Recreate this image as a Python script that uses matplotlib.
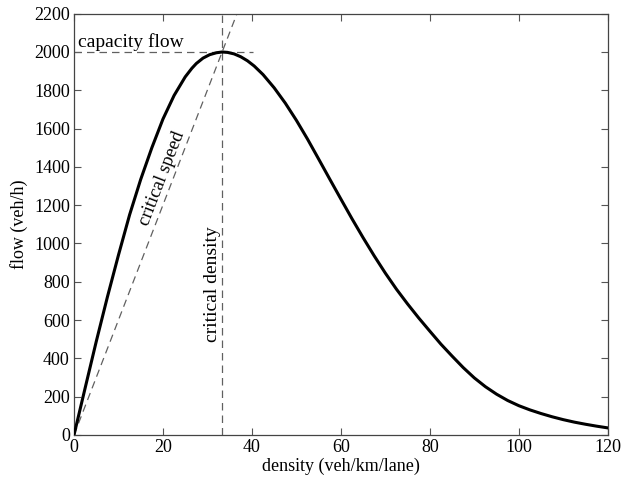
import numpy as np
import matplotlib
matplotlib.use("Agg")
import matplotlib.pyplot as plt

# density (veh/km/lane) and flow (veh/h)
density = [0, 2.5, 5, 7.5, 10, 12.5, 15, 17.5, 20, 22.5, 25, 26.5, 27.5, 29, 30.5, 32, 33.3,
           34.5, 36, 37.5, 39, 40.5, 42.5, 45, 47.5, 50, 52.5, 55, 57.5, 60, 62.5, 65, 67.5,
           70, 72.5, 75, 77.5, 80, 82.5, 85, 87.5, 90, 92.5, 95, 97.5, 100, 102.5, 105,
           107.5, 110, 112.5, 115, 117.5, 120]
flow = [0, 245, 488, 720, 940, 1150, 1335, 1500, 1650, 1773, 1870, 1915, 1940, 1968, 1986, 1996, 2000,
        1998, 1990, 1975, 1954, 1927, 1882, 1813, 1733, 1643, 1545, 1441, 1336, 1232, 1129, 1030, 935,
        845, 761, 684, 611, 542, 474, 412, 352, 298, 252, 213, 180, 153, 131, 112,
        95, 80, 67, 56, 46, 37]

k_crit = 33.3
q_cap = 2000
k_cap_end = 40.3

plt.rcParams['font.family'] = ['Liberation Serif', 'DejaVu Serif']

fig = plt.figure(figsize=(6.24, 4.79), dpi=100)
ax = fig.add_axes([0.1186, 0.0919, 0.8554, 0.8795])

ax.plot(density, flow, color="black", lw=2.2, zorder=3, solid_joinstyle="round")

dash = dict(color="#606060", lw=0.9, dashes=(6, 4))
# critical speed line through origin and the capacity point
ax.plot([0, 2200 * k_crit / q_cap], [0, 2200], **dash)
# critical density
ax.plot([k_crit, k_crit], [0, 2200], **dash)
# capacity flow
ax.plot([0, k_cap_end], [q_cap, q_cap], **dash)

ax.text(0.9, 2025, "capacity flow", fontsize=14, ha="left", va="baseline")
ang = np.degrees(np.arctan((q_cap * 0.1914) / (k_crit * 4.45)))
ax.text(19.8, 1340, "critical speed", fontsize=13.5, rotation=ang,
        ha="center", va="center", rotation_mode="anchor")
ax.text(31.2, 787, "critical density", fontsize=14, rotation=90,
        ha="center", va="center")

ax.set_xlim(0, 120)
ax.set_ylim(0, 2200)
ax.set_xticks(np.arange(0, 121, 20))
ax.set_yticks(np.arange(0, 2201, 200))
ax.tick_params(direction="in", top=True, right=True, labelsize=13, length=5,
               color="#555555", pad=3)
for s in ax.spines.values():
    s.set_color("#444444")
    s.set_linewidth(0.9)

ax.set_xlabel("density (veh/km/lane)", fontsize=13, labelpad=1)
ax.set_ylabel("flow (veh/h)", fontsize=13, labelpad=4)

fig.savefig("out.png", dpi=100)
